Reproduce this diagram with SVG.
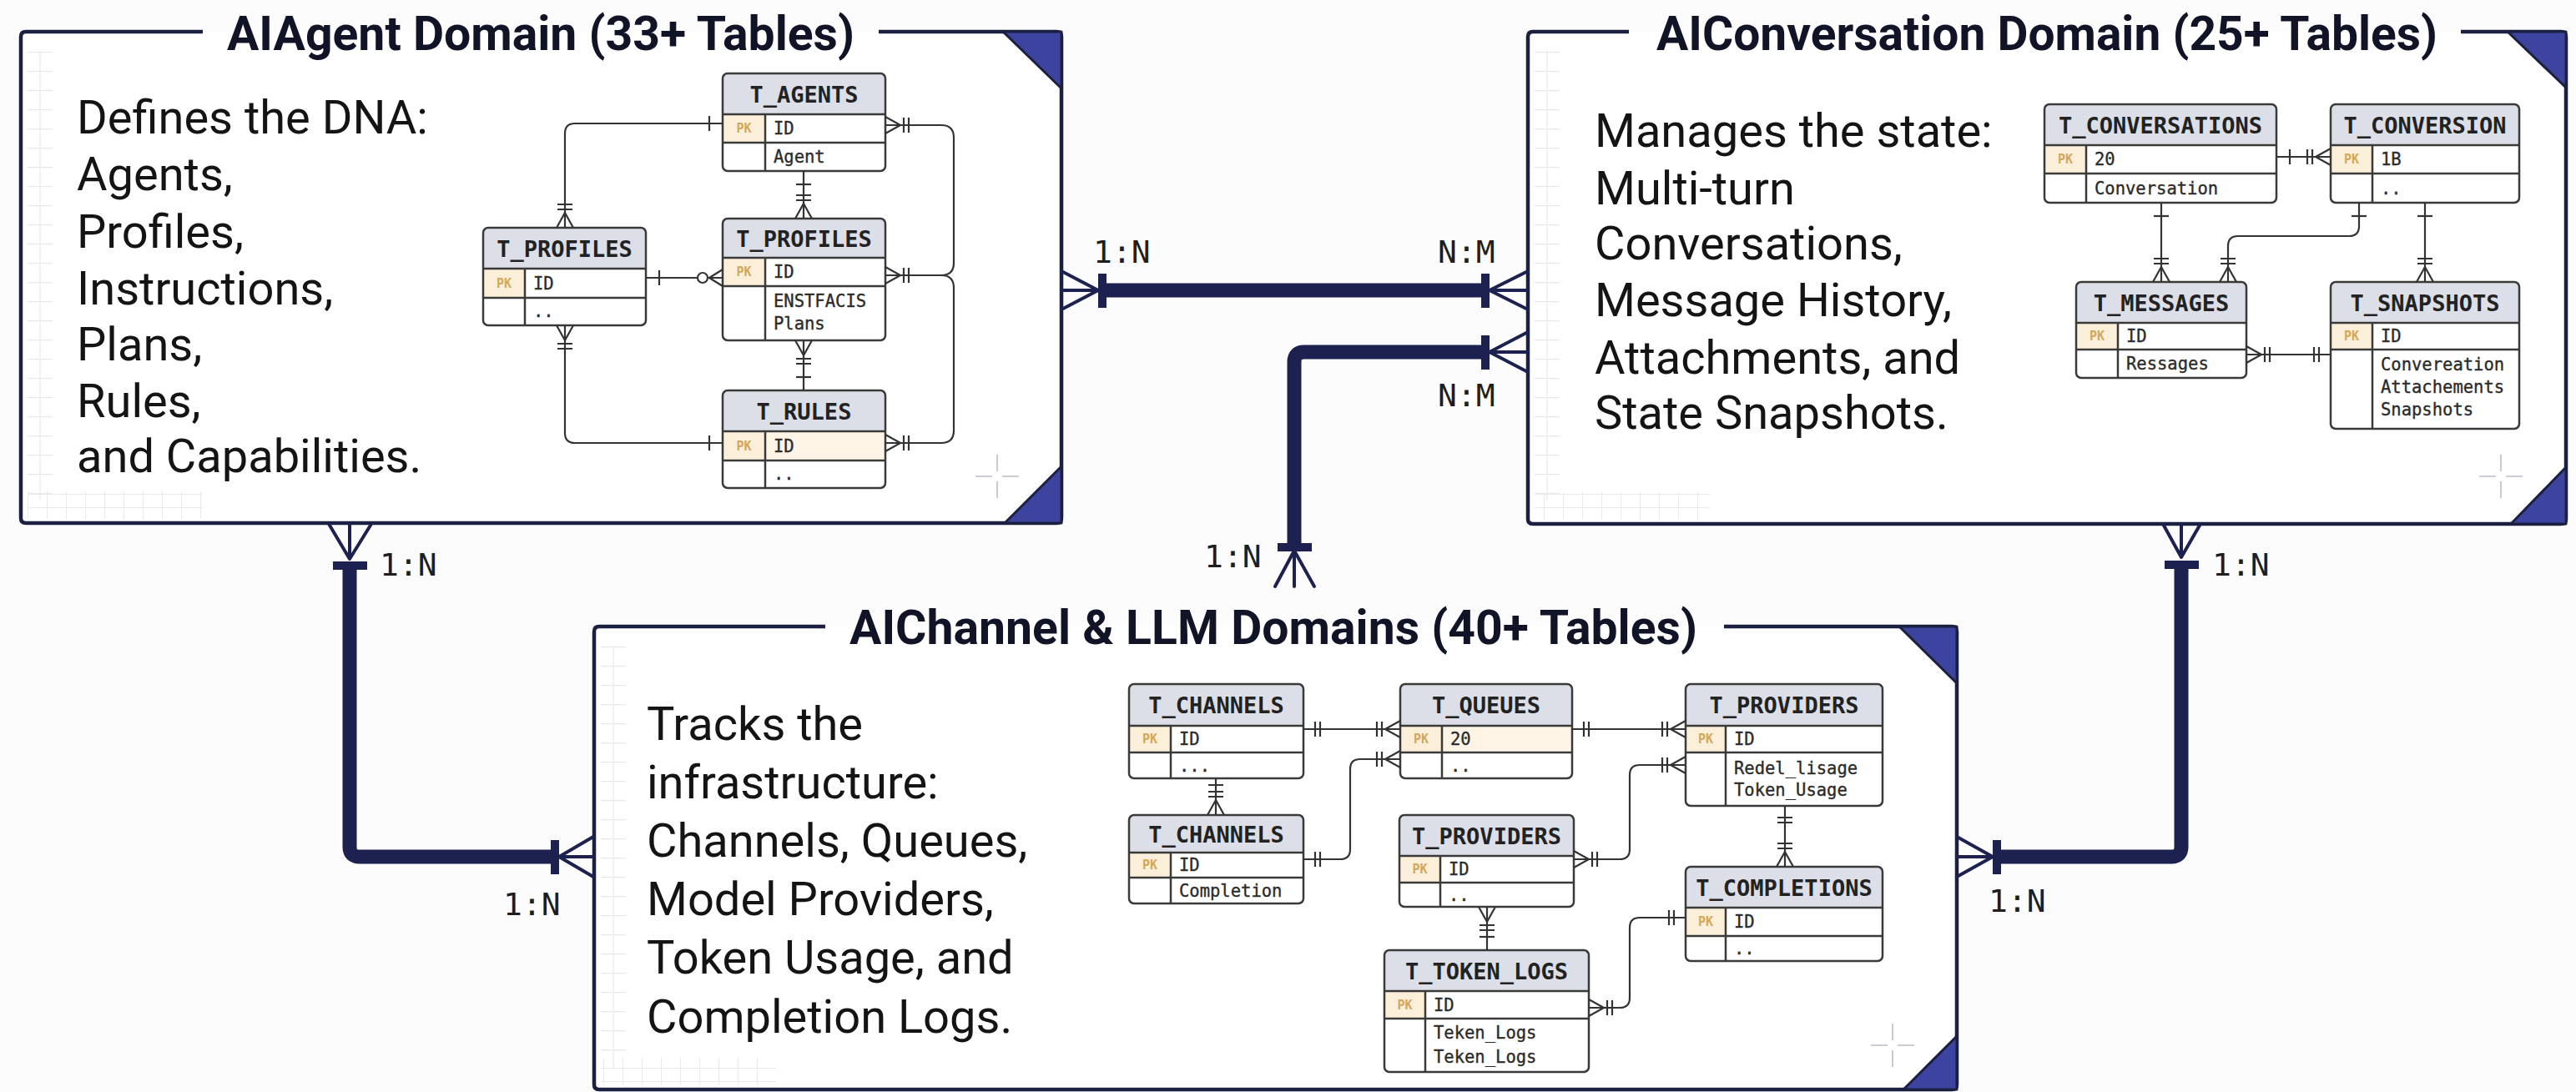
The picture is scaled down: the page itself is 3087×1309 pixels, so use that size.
<svg xmlns="http://www.w3.org/2000/svg" xmlns:xlink="http://www.w3.org/1999/xlink" width="3087" height="1309" viewBox="0 0 3087 1309">
  <style>
    .pbg{fill:#ffffff}
    .pframe{fill:none;stroke:#1b2040;stroke-width:4.5;stroke-linejoin:round}
    .corner{fill:#3c44a0;stroke:#1b2040;stroke-width:3;stroke-linejoin:round}
    .ttl{font-family:Roboto,"Liberation Sans",sans-serif;font-weight:bold;font-size:57px;fill:#111426}
    .body{font-family:Roboto,"Liberation Sans",sans-serif;font-size:56px;fill:#141414}
    .cross{stroke:#b9bdc9;stroke-width:1.6;fill:none}
    .tbg{fill:#ffffff}
    .thd{fill:#dcdfe8}
    .kc{fill:#fbefd9}
    .hl{fill:#fdf4e6}
    .tol{fill:none;stroke:#3a3a3a;stroke-width:2.5}
    .tln{fill:none;stroke:#3a3a3a;stroke-width:2.5}
    .hn{font-family:"DejaVu Sans Mono",monospace;font-weight:bold;font-size:27px;fill:#222;text-anchor:middle}
    .rt{font-family:"DejaVu Sans Mono",monospace;font-size:20.5px;fill:#2b2b2b;stroke:#2b2b2b;stroke-width:0.35}
    .pk{font-family:"DejaVu Sans Mono",monospace;font-weight:bold;font-size:15px;fill:#d2a85c;text-anchor:middle}
    .er{fill:none;stroke:#333;stroke-width:2.2}
    .thick{fill:none;stroke:#1c2150;stroke-width:17;stroke-linejoin:round}
    .foot{fill:none;stroke:#1c2150;stroke-width:4;stroke-linecap:round}
    .tick{fill:#1c2150}
    .card{font-family:"DejaVu Sans Mono",monospace;font-size:38px;fill:#1e1e1e}
  </style>
  <defs>
    <!-- faint ruler ticks along panel edges -->
    <pattern id="ticks" x="0" y="16" width="40" height="23" patternUnits="userSpaceOnUse">
      <path d="M0,0.5 H40" stroke="#e6e8ee" stroke-width="1.5"/>
    </pattern>
    <pattern id="grid" x="10" y="0" width="23" height="16" patternUnits="userSpaceOnUse">
      <path d="M0.5,0 V16 M0,0.5 H23" stroke="#e8eaf0" stroke-width="1.2" fill="none"/>
    </pattern>
    <!-- ER end marks, drawn for a line arriving from the left at a table edge at the origin -->
    <g id="m-one"><path d="M-16,-9 V9"/></g>
    <g id="m-one2"><path d="M-14,-9 V9 M-20,-9 V9"/></g>
    <g id="m-many"><path d="M-18,0 L0,-10 M-18,0 L0,10 M-22,-9 V9 M-28,-9 V9"/></g>
    <g id="m-zmany"><path d="M-16,0 L0,-10 M-16,0 L0,10"/><circle cx="-24" cy="0" r="6" fill="#fff"/></g>
    <g id="xhair"><path d="M-26,0 H-6 M6,0 H26 M0,-26 V-6 M0,6 V26"/></g>
  </defs>

  <rect width="3087" height="1309" fill="#fcfcfd"/>

  <!-- ===== Panel: AIAgent Domain ===== -->
  <g id="panel-agent">
    <rect class="pbg" x="25" y="38" width="1247" height="589" rx="6"/>
    <rect x="33" y="60" width="30" height="540" fill="url(#ticks)"/>
    <path d="M48,60 V600" stroke="#eceef3" stroke-width="1.5"/>
    <rect x="33" y="589" width="210" height="33" fill="url(#grid)"/>
    <use href="#xhair" class="cross" x="1195" y="571"/>
    <path class="pframe" d="M243,38 H31 Q25,38 25,44 V621 Q25,627 31,627 H1266 Q1272,627 1272,621 V44 Q1272,38 1266,38 H1053"/>
    <polygon class="corner" points="1202,38 1272,38 1272,106"/>
    <polygon class="corner" points="1272,559 1272,627 1204,627"/>
    <text class="ttl" x="272" y="60" textLength="752" lengthAdjust="spacingAndGlyphs">AIAgent Domain (33+ Tables)</text>
    <text class="body">
      <tspan x="92" y="160">Defines the DNA:</tspan>
      <tspan x="92" y="228">Agents,</tspan>
      <tspan x="92" y="297">Profiles,</tspan>
      <tspan x="92" y="365">Instructions,</tspan>
      <tspan x="92" y="432">Plans,</tspan>
      <tspan x="92" y="500">Rules,</tspan>
      <tspan x="92" y="566">and Capabilities.</tspan>
    </text>
  </g>

  <!-- ===== Panel: AIConversation Domain ===== -->
  <g id="panel-conversation">
    <rect class="pbg" x="1831" y="38" width="1244" height="590" rx="6"/>
    <rect x="1839" y="60" width="30" height="540" fill="url(#ticks)"/>
    <path d="M1854,60 V600" stroke="#eceef3" stroke-width="1.5"/>
    <rect x="1839" y="590" width="210" height="33" fill="url(#grid)"/>
    <use href="#xhair" class="cross" x="2997" y="571"/>
    <path class="pframe" d="M1952,38 H1837 Q1831,38 1831,44 V622 Q1831,628 1837,628 H3069 Q3075,628 3075,622 V44 Q3075,38 3069,38 H2949"/>
    <polygon class="corner" points="3005,38 3075,38 3075,105"/>
    <polygon class="corner" points="3075,560 3075,628 3009,628"/>
    <text class="ttl" x="1985" y="60" textLength="936" lengthAdjust="spacingAndGlyphs">AIConversation Domain (25+ Tables)</text>
    <text class="body">
      <tspan x="1911" y="176">Manages the state:</tspan>
      <tspan x="1911" y="245">Multi-turn</tspan>
      <tspan x="1911" y="311">Conversations,</tspan>
      <tspan x="1911" y="379">Message History,</tspan>
      <tspan x="1911" y="448">Attachments, and</tspan>
      <tspan x="1911" y="514">State Snapshots.</tspan>
    </text>
  </g>

  <!-- ===== Panel: AIChannel & LLM Domains ===== -->
  <g id="panel-channel">
    <rect class="pbg" x="712" y="751" width="1633" height="555" rx="6"/>
    <rect x="720" y="775" width="30" height="500" fill="url(#ticks)"/>
    <path d="M735,775 V1280" stroke="#eceef3" stroke-width="1.5"/>
    <rect x="720" y="1268" width="210" height="33" fill="url(#grid)"/>
    <use href="#xhair" class="cross" x="2268" y="1253"/>
    <path class="pframe" d="M989,751 H718 Q712,751 712,757 V1300 Q712,1306 718,1306 H2339 Q2345,1306 2345,1300 V757 Q2345,751 2339,751 H2066"/>
    <polygon class="corner" points="2276,751 2345,751 2345,819"/>
    <polygon class="corner" points="2345,1242 2345,1306 2281,1306"/>
    <text class="ttl" x="1018" y="772" textLength="1016" lengthAdjust="spacingAndGlyphs">AIChannel &amp; LLM Domains (40+ Tables)</text>
    <text class="body">
      <tspan x="775" y="887">Tracks the</tspan>
      <tspan x="775" y="957">infrastructure:</tspan>
      <tspan x="775" y="1027">Channels, Queues,</tspan>
      <tspan x="775" y="1097">Model Providers,</tspan>
      <tspan x="775" y="1167">Token Usage, and</tspan>
      <tspan x="775" y="1238">Completion Logs.</tspan>
    </text>
  </g>

  <!-- ===== Tables: agent domain ===== -->
  <g id="t-agents">
    <rect class="tbg" x="866" y="88" width="195" height="117" rx="6"/>
    <path class="thd" d="M866,137 V94 Q866,88 872,88 H1055 Q1061,88 1061,94 V137 Z"/>
    <rect class="kc" x="866" y="137" width="51" height="34"/>
    <path class="tln" d="M866,137 H1061 M866,171 H1061 M917,137 V205"/>
    <rect class="tol" x="866" y="88" width="195" height="117" rx="6"/>
    <text class="hn" x="963.5" y="122.5">T_AGENTS</text>
    <text class="pk" x="891.5" y="159">PK</text>
    <text class="rt" x="927" y="161">ID</text>
    <text class="rt" x="927" y="195">Agent</text>
  </g>
  <g id="t-profiles-a">
    <rect class="tbg" x="579" y="273" width="195" height="117" rx="6"/>
    <path class="thd" d="M579,322 V279 Q579,273 585,273 H768 Q774,273 774,279 V322 Z"/>
    <rect class="kc" x="579" y="322" width="50" height="35"/>
    <path class="tln" d="M579,322 H774 M579,357 H774 M629,322 V390"/>
    <rect class="tol" x="579" y="273" width="195" height="117" rx="6"/>
    <text class="hn" x="676.5" y="307.5">T_PROFILES</text>
    <text class="pk" x="604" y="345">PK</text>
    <text class="rt" x="639" y="346.5">ID</text>
    <text class="rt" x="639" y="380">..</text>
  </g>
  <g id="t-profiles-b">
    <rect class="tbg" x="866" y="262" width="195" height="146" rx="6"/>
    <path class="thd" d="M866,309 V268 Q866,262 872,262 H1055 Q1061,262 1061,268 V309 Z"/>
    <rect class="kc" x="866" y="309" width="51" height="34"/>
    <path class="tln" d="M866,309 H1061 M866,343 H1061 M917,309 V408"/>
    <rect class="tol" x="866" y="262" width="195" height="146" rx="6"/>
    <text class="hn" x="963.5" y="295.5">T_PROFILES</text>
    <text class="pk" x="891.5" y="331">PK</text>
    <text class="rt" x="927" y="333">ID</text>
    <text class="rt" x="927" y="368">ENSTFACIS</text>
    <text class="rt" x="927" y="395">Plans</text>
  </g>
  <g id="t-rules">
    <rect class="tbg" x="866" y="468" width="195" height="117" rx="6"/>
    <path class="thd" d="M866,517 V474 Q866,468 872,468 H1055 Q1061,468 1061,474 V517 Z"/>
    <rect class="hl" x="866" y="517" width="195" height="35"/>
    <rect class="kc" x="866" y="517" width="51" height="35"/>
    <path class="tln" d="M866,517 H1061 M866,552 H1061 M917,517 V585"/>
    <rect class="tol" x="866" y="468" width="195" height="117" rx="6"/>
    <text class="hn" x="963.5" y="502.5">T_RULES</text>
    <text class="pk" x="891.5" y="540">PK</text>
    <text class="rt" x="927" y="541.5">ID</text>
    <text class="rt" x="927" y="575">..</text>
  </g>

  <!-- ===== Tables: conversation domain ===== -->
  <g id="t-conversations">
    <rect class="tbg" x="2450" y="125" width="278" height="118" rx="6"/>
    <path class="thd" d="M2450,174 V131 Q2450,125 2456,125 H2722 Q2728,125 2728,131 V174 Z"/>
    <rect class="kc" x="2450" y="174" width="50" height="34"/>
    <path class="tln" d="M2450,174 H2728 M2450,208 H2728 M2500,174 V243"/>
    <rect class="tol" x="2450" y="125" width="278" height="118" rx="6"/>
    <text class="hn" x="2589" y="159.5">T_CONVERSATIONS</text>
    <text class="pk" x="2475" y="196">PK</text>
    <text class="rt" x="2510" y="198">20</text>
    <text class="rt" x="2510" y="232.5">Conversation</text>
  </g>
  <g id="t-conversion">
    <rect class="tbg" x="2793" y="125" width="226" height="118" rx="6"/>
    <path class="thd" d="M2793,174 V131 Q2793,125 2799,125 H3013 Q3019,125 3019,131 V174 Z"/>
    <rect class="kc" x="2793" y="174" width="50" height="34"/>
    <path class="tln" d="M2793,174 H3019 M2793,208 H3019 M2843,174 V243"/>
    <rect class="tol" x="2793" y="125" width="226" height="118" rx="6"/>
    <text class="hn" x="2906" y="159.5">T_CONVERSION</text>
    <text class="pk" x="2818" y="196">PK</text>
    <text class="rt" x="2853" y="198">1B</text>
    <text class="rt" x="2853" y="232.5">..</text>
  </g>
  <g id="t-messages">
    <rect class="tbg" x="2488" y="338" width="204" height="115" rx="6"/>
    <path class="thd" d="M2488,387 V344 Q2488,338 2494,338 H2686 Q2692,338 2692,344 V387 Z"/>
    <rect class="kc" x="2488" y="387" width="50" height="32"/>
    <path class="tln" d="M2488,387 H2692 M2488,419 H2692 M2538,387 V453"/>
    <rect class="tol" x="2488" y="338" width="204" height="115" rx="6"/>
    <text class="hn" x="2590" y="372.5">T_MESSAGES</text>
    <text class="pk" x="2513" y="408">PK</text>
    <text class="rt" x="2548" y="410">ID</text>
    <text class="rt" x="2548" y="443">Ressages</text>
  </g>
  <g id="t-snapshots">
    <rect class="tbg" x="2793" y="338" width="226" height="176" rx="6"/>
    <path class="thd" d="M2793,387 V344 Q2793,338 2799,338 H3013 Q3019,338 3019,344 V387 Z"/>
    <rect class="kc" x="2793" y="387" width="50" height="32"/>
    <path class="tln" d="M2793,387 H3019 M2793,419 H3019 M2843,387 V514"/>
    <rect class="tol" x="2793" y="338" width="226" height="176" rx="6"/>
    <text class="hn" x="2906" y="372.5">T_SNAPSHOTS</text>
    <text class="pk" x="2818" y="408">PK</text>
    <text class="rt" x="2853" y="410">ID</text>
    <text class="rt" x="2853" y="444">Convereation</text>
    <text class="rt" x="2853" y="471">Attachements</text>
    <text class="rt" x="2853" y="498">Snapshots</text>
  </g>

  <!-- ===== Tables: channel & LLM domains ===== -->
  <g id="t-channels">
    <rect class="tbg" x="1353" y="820" width="209" height="113" rx="6"/>
    <path class="thd" d="M1353,870 V826 Q1353,820 1359,820 H1556 Q1562,820 1562,826 V870 Z"/>
    <rect class="kc" x="1353" y="870" width="50" height="32"/>
    <path class="tln" d="M1353,870 H1562 M1353,902 H1562 M1403,870 V933"/>
    <rect class="tol" x="1353" y="820" width="209" height="113" rx="6"/>
    <text class="hn" x="1457.5" y="855">T_CHANNELS</text>
    <text class="pk" x="1378" y="891">PK</text>
    <text class="rt" x="1413" y="893">ID</text>
    <text class="rt" x="1413" y="924.5">...</text>
  </g>
  <g id="t-queues">
    <rect class="tbg" x="1678" y="820" width="206" height="113" rx="6"/>
    <path class="thd" d="M1678,870 V826 Q1678,820 1684,820 H1878 Q1884,820 1884,826 V870 Z"/>
    <rect class="hl" x="1678" y="870" width="206" height="32"/>
    <rect class="kc" x="1678" y="870" width="50" height="32"/>
    <path class="tln" d="M1678,870 H1884 M1678,902 H1884 M1728,870 V933"/>
    <rect class="tol" x="1678" y="820" width="206" height="113" rx="6"/>
    <text class="hn" x="1781" y="855">T_QUEUES</text>
    <text class="pk" x="1703" y="891">PK</text>
    <text class="rt" x="1738" y="893">20</text>
    <text class="rt" x="1738" y="924.5">..</text>
  </g>
  <g id="t-providers">
    <rect class="tbg" x="2020" y="820" width="236" height="146" rx="6"/>
    <path class="thd" d="M2020,870 V826 Q2020,820 2026,820 H2250 Q2256,820 2256,826 V870 Z"/>
    <rect class="kc" x="2020" y="870" width="48" height="32"/>
    <path class="tln" d="M2020,870 H2256 M2020,902 H2256 M2068,870 V966"/>
    <rect class="tol" x="2020" y="820" width="236" height="146" rx="6"/>
    <text class="hn" x="2138" y="855">T_PROVIDERS</text>
    <text class="pk" x="2044" y="891">PK</text>
    <text class="rt" x="2078" y="893">ID</text>
    <text class="rt" x="2078" y="928">Redel_lisage</text>
    <text class="rt" x="2078" y="954">Token_Usage</text>
  </g>
  <g id="t-channels-b">
    <rect class="tbg" x="1353" y="977" width="209" height="106" rx="6"/>
    <path class="thd" d="M1353,1022 V983 Q1353,977 1359,977 H1556 Q1562,977 1562,983 V1022 Z"/>
    <rect class="kc" x="1353" y="1022" width="50" height="30"/>
    <path class="tln" d="M1353,1022 H1562 M1353,1052 H1562 M1403,1022 V1083"/>
    <rect class="tol" x="1353" y="977" width="209" height="106" rx="6"/>
    <text class="hn" x="1457.5" y="1009.5">T_CHANNELS</text>
    <text class="pk" x="1378" y="1042">PK</text>
    <text class="rt" x="1413" y="1044">ID</text>
    <text class="rt" x="1413" y="1074.5">Completion</text>
  </g>
  <g id="t-providers-b">
    <rect class="tbg" x="1677" y="977" width="209" height="110" rx="6"/>
    <path class="thd" d="M1677,1026 V983 Q1677,977 1683,977 H1880 Q1886,977 1886,983 V1026 Z"/>
    <rect class="kc" x="1677" y="1026" width="49" height="32"/>
    <path class="tln" d="M1677,1026 H1886 M1677,1058 H1886 M1726,1026 V1087"/>
    <rect class="tol" x="1677" y="977" width="209" height="110" rx="6"/>
    <text class="hn" x="1781.5" y="1011.5">T_PROVIDERS</text>
    <text class="pk" x="1701.5" y="1047">PK</text>
    <text class="rt" x="1736" y="1049">ID</text>
    <text class="rt" x="1736" y="1079.5">..</text>
  </g>
  <g id="t-completions">
    <rect class="tbg" x="2020" y="1039" width="236" height="113" rx="6"/>
    <path class="thd" d="M2020,1088 V1045 Q2020,1039 2026,1039 H2250 Q2256,1039 2256,1045 V1088 Z"/>
    <rect class="kc" x="2020" y="1088" width="48" height="34"/>
    <path class="tln" d="M2020,1088 H2256 M2020,1122 H2256 M2068,1088 V1152"/>
    <rect class="tol" x="2020" y="1039" width="236" height="113" rx="6"/>
    <text class="hn" x="2138" y="1073.5">T_COMPLETIONS</text>
    <text class="pk" x="2044" y="1110">PK</text>
    <text class="rt" x="2078" y="1112">ID</text>
    <text class="rt" x="2078" y="1144">..</text>
  </g>
  <g id="t-token-logs">
    <rect class="tbg" x="1659" y="1139" width="245" height="146" rx="6"/>
    <path class="thd" d="M1659,1188 V1145 Q1659,1139 1665,1139 H1898 Q1904,1139 1904,1145 V1188 Z"/>
    <rect class="kc" x="1659" y="1188" width="49" height="33"/>
    <path class="tln" d="M1659,1188 H1904 M1659,1221 H1904 M1708,1188 V1285"/>
    <rect class="tol" x="1659" y="1139" width="245" height="146" rx="6"/>
    <text class="hn" x="1781.5" y="1173.5">T_TOKEN_LOGS</text>
    <text class="pk" x="1683.5" y="1209.5">PK</text>
    <text class="rt" x="1718" y="1211.5">ID</text>
    <text class="rt" x="1718" y="1245">Teken_Logs</text>
    <text class="rt" x="1718" y="1274">Teken_Logs</text>
  </g>

  <!-- ===== Connectors ===== -->
  <g id="connectors">
    <!-- table-level relationships, agent domain -->
    <g class="er">
      <path d="M677,273 V160 Q677,148 689,148 H866"/>
      <use href="#m-one" transform="translate(866,148)"/>
      <use href="#m-many" transform="translate(677,273) rotate(90)"/>
      <path d="M677,390 V519 Q677,531 689,531 H866"/>
      <use href="#m-many" transform="translate(677,390) rotate(-90)"/>
      <use href="#m-one" transform="translate(866,531)"/>
      <path d="M774,333 H866"/>
      <use href="#m-one" transform="translate(774,333) rotate(180)"/>
      <use href="#m-zmany" transform="translate(866,333)"/>
      <path d="M963,205 V262"/>
      <use href="#m-one" transform="translate(963,205) rotate(-90)"/>
      <use href="#m-many" transform="translate(963,262) rotate(90)"/>
      <path d="M963,408 V468"/>
      <use href="#m-many" transform="translate(963,408) rotate(-90)"/>
      <use href="#m-one" transform="translate(963,468) rotate(90)"/>
      <path d="M1061,150 H1128 Q1143,150 1143,165 V315 Q1143,330 1128,330 H1061 M1061,330 H1128 Q1143,330 1143,345 V516 Q1143,531 1128,531 H1061"/>
      <use href="#m-many" transform="translate(1061,150) rotate(180)"/>
      <use href="#m-many" transform="translate(1061,330) rotate(180)"/>
      <use href="#m-many" transform="translate(1061,531) rotate(180)"/>
    </g>
    <!-- table-level relationships, conversation domain -->
    <g class="er">
      <path d="M2728,188 H2793"/>
      <use href="#m-one" transform="translate(2728,188) rotate(180)"/>
      <use href="#m-many" transform="translate(2793,188)"/>
      <path d="M2590,243 V338"/>
      <use href="#m-one" transform="translate(2590,243) rotate(-90)"/>
      <use href="#m-many" transform="translate(2590,338) rotate(90)"/>
      <path d="M2827,243 V271 Q2827,283 2815,283 H2682 Q2670,283 2670,295 V338"/>
      <use href="#m-one" transform="translate(2827,243) rotate(-90)"/>
      <use href="#m-many" transform="translate(2670,338) rotate(90)"/>
      <path d="M2906,243 V338"/>
      <use href="#m-one" transform="translate(2906,243) rotate(-90)"/>
      <use href="#m-many" transform="translate(2906,338) rotate(90)"/>
      <path d="M2692,425 H2793"/>
      <use href="#m-many" transform="translate(2692,425) rotate(180)"/>
      <use href="#m-one2" transform="translate(2793,425)"/>
    </g>
    <!-- table-level relationships, channel & LLM domains -->
    <g class="er">
      <path d="M1562,874 H1678"/>
      <use href="#m-one2" transform="translate(1562,874) rotate(180)"/>
      <use href="#m-many" transform="translate(1678,874)"/>
      <path d="M1562,1030 H1606 Q1618,1030 1618,1018 V922 Q1618,910 1630,910 H1678"/>
      <use href="#m-one2" transform="translate(1562,1030) rotate(180)"/>
      <use href="#m-many" transform="translate(1678,910)"/>
      <path d="M1884,874 H2020"/>
      <use href="#m-one2" transform="translate(1884,874) rotate(180)"/>
      <use href="#m-many" transform="translate(2020,874)"/>
      <path d="M1457,933 V977 M1448,941 H1466"/>
      <use href="#m-many" transform="translate(1457,977) rotate(90)"/>
      <path d="M1886,1030 H1941 Q1953,1030 1953,1018 V929 Q1953,917 1965,917 H2020"/>
      <use href="#m-many" transform="translate(1886,1030) rotate(180)"/>
      <use href="#m-many" transform="translate(2020,917)"/>
      <path d="M2139,966 V1039"/>
      <use href="#m-one2" transform="translate(2139,966) rotate(-90)"/>
      <use href="#m-many" transform="translate(2139,1039) rotate(90)"/>
      <path d="M1782,1087 V1139"/>
      <use href="#m-many" transform="translate(1782,1087) rotate(-90)"/>
      <use href="#m-one" transform="translate(1782,1139) rotate(90)"/>
      <path d="M1904,1208 H1941 Q1953,1208 1953,1196 V1112 Q1953,1100 1965,1100 H2020"/>
      <use href="#m-many" transform="translate(1904,1208) rotate(180)"/>
      <use href="#m-one2" transform="translate(2020,1100)"/>
    </g>

    <!-- domain-level links -->
    <g id="link-agent-conversation">
      <path class="thick" d="M1321,348 H1780"/>
      <path class="foot" d="M1316,348 L1272,325 M1316,348 L1272,348 M1316,348 L1272,371"/>
      <rect class="tick" x="1316" y="328" width="10" height="41"/>
      <rect class="tick" x="1775" y="328" width="10" height="41"/>
      <path class="foot" d="M1785,348 L1831,325 M1785,348 L1831,348 M1785,348 L1831,371"/>
      <text class="card" x="1310" y="315">1:N</text>
      <text class="card" x="1723" y="315">N:M</text>
    </g>
    <g id="link-channel-conversation">
      <path class="thick" d="M1780,422 H1563 Q1551,422 1551,434 V656"/>
      <rect class="tick" x="1775" y="402" width="10" height="41"/>
      <path class="foot" d="M1785,422 L1831,398 M1785,422 L1831,422 M1785,422 L1831,446"/>
      <rect class="tick" x="1531" y="651" width="41" height="10"/>
      <path class="foot" d="M1551,660 L1528,703 M1551,660 L1551,703 M1551,660 L1575,703"/>
      <text class="card" x="1723" y="487">N:M</text>
      <text class="card" x="1443" y="680">1:N</text>
    </g>
    <g id="link-agent-channel">
      <path class="foot" d="M419,670 L394,628 M419,670 L419,628 M419,670 L445,628"/>
      <rect class="tick" x="399" y="673" width="41" height="10"/>
      <path class="thick" d="M419,678 V1015 Q419,1027 431,1027 H665"/>
      <rect class="tick" x="660" y="1007" width="10" height="41"/>
      <path class="foot" d="M670,1027 L711,1003 M670,1027 L711,1027 M670,1027 L711,1051"/>
      <text class="card" x="455" y="690">1:N</text>
      <text class="card" x="603" y="1097">1:N</text>
    </g>
    <g id="link-conversation-channel">
      <path class="foot" d="M2614,668 L2592,628 M2614,668 L2614,628 M2614,668 L2637,628"/>
      <rect class="tick" x="2594" y="672" width="41" height="10"/>
      <path class="thick" d="M2614,677 V1015 Q2614,1027 2602,1027 H2393"/>
      <rect class="tick" x="2388" y="1007" width="10" height="41"/>
      <path class="foot" d="M2388,1027 L2345,1003 M2388,1027 L2345,1027 M2388,1027 L2345,1051"/>
      <text class="card" x="2651" y="690">1:N</text>
      <text class="card" x="2383" y="1093">1:N</text>
    </g>
  </g>
</svg>
